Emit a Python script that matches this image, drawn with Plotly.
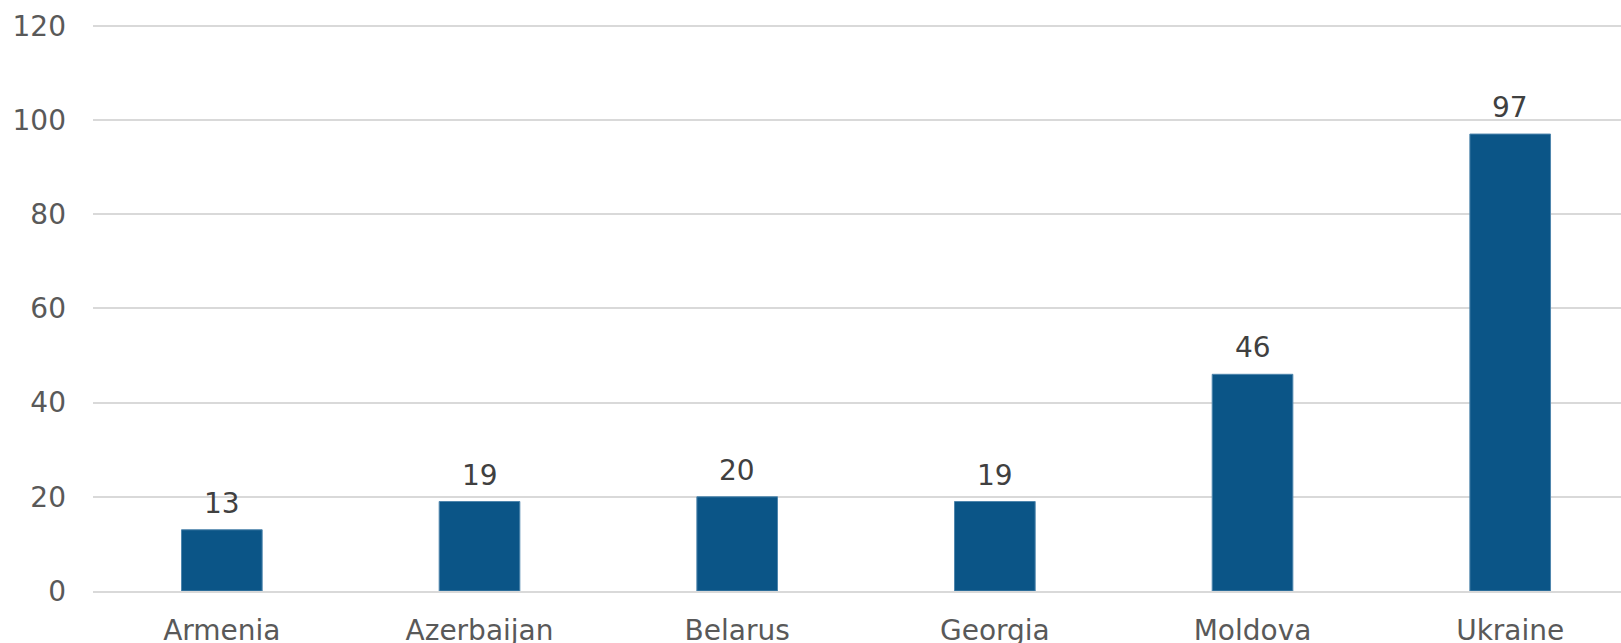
import plotly.graph_objects as go

categories = ["Armenia", "Azerbaijan", "Belarus", "Georgia", "Moldova", "Ukraine"]
values = [13, 19, 20, 19, 46, 97]
y_ticks = [0, 20, 40, 60, 80, 100, 120]

BAR = "#0B5587"
FONT = "DejaVu Sans, Verdana, sans-serif"
FS = 28

fig = go.Figure()
fig.add_trace(go.Bar(
    x=list(range(len(categories))),
    y=values,
    marker=dict(color=BAR, line=dict(width=1, color="#4F86AD")),
    width=0.313,
    hoverinfo="skip",
))

for i, v in enumerate(values):
    fig.add_annotation(
        x=i, y=v, text=str(v), showarrow=False,
        yanchor="bottom", xanchor="center", yshift=8,
        font=dict(family=FONT, size=FS, color="#404040"),
    )

fig.update_layout(
    width=1621, height=643,
    margin=dict(l=93, r=0, t=21, b=52, autoexpand=False),
    paper_bgcolor="white", plot_bgcolor="white",
    showlegend=False,
    font=dict(family=FONT, size=FS, color="#595959"),
    xaxis=dict(
        range=[-0.5, 5.43],
        tickmode="array",
        tickvals=list(range(len(categories))),
        ticktext=categories,
        showgrid=False, zeroline=False,
        showline=True, linecolor="#D9D9D9", linewidth=2,
        ticks="", ticklabelstandoff=13,
        tickfont=dict(family=FONT, size=FS, color="#595959"),
    ),
    yaxis=dict(
        range=[0, 121],
        tickmode="array", tickvals=y_ticks,
        showgrid=True, gridcolor="#D9D9D9", gridwidth=1.5,
        zeroline=False, showline=False, ticks="",
        ticklabelstandoff=26,
        tickfont=dict(family=FONT, size=FS, color="#595959"),
    ),
)

fig.write_html(
    "out.html",
    config={"displayModeBar": False},
    post_script="document.body.style.margin='0';document.body.style.overflow='hidden';",
)
